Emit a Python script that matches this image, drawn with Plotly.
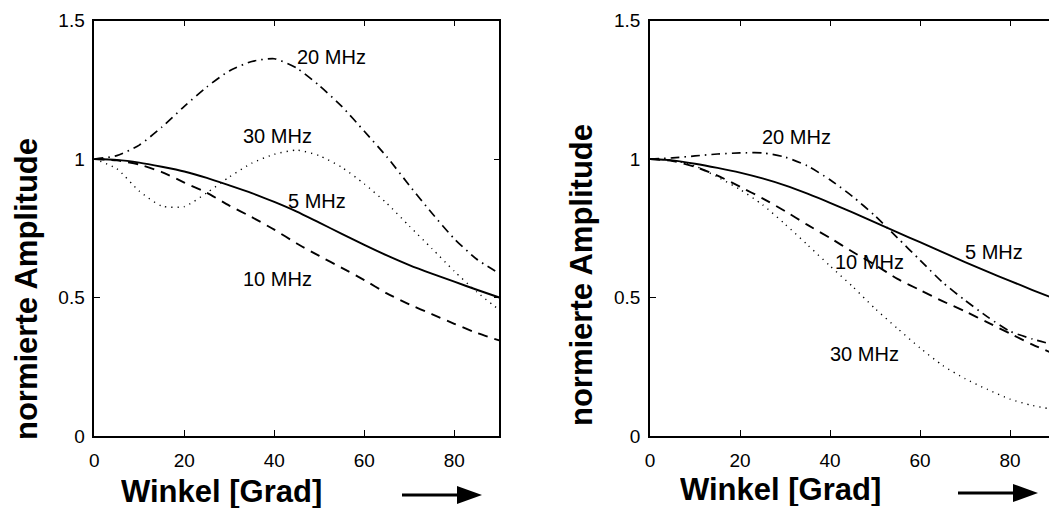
import plotly.graph_objects as go

# Angle grid (degrees)
winkel = [0, 5, 10, 15, 20, 25, 30, 35, 40, 45, 50, 55, 60, 65, 70, 75, 80, 85, 90]

# Left panel: normalised amplitude per frequency
links_5mhz = [1.0, 0.997, 0.987, 0.972, 0.955, 0.932, 0.905, 0.877, 0.845, 0.81, 0.77,
              0.73, 0.69, 0.652, 0.617, 0.586, 0.557, 0.528, 0.50]
links_10mhz = [1.0, 0.995, 0.98, 0.953, 0.915, 0.878, 0.832, 0.79, 0.745, 0.695, 0.65,
               0.607, 0.563, 0.515, 0.475, 0.44, 0.405, 0.372, 0.345]
links_20mhz = [1.0, 1.012, 1.05, 1.115, 1.19, 1.26, 1.318, 1.352, 1.362, 1.328, 1.265,
               1.19, 1.10, 1.008, 0.905, 0.805, 0.712, 0.638, 0.587]
links_30mhz = [1.0, 0.965, 0.884, 0.83, 0.828, 0.878, 0.935, 0.985, 1.017, 1.032, 1.012,
               0.97, 0.91, 0.84, 0.758, 0.677, 0.595, 0.52, 0.455]

# Right panel
rechts_5mhz = [1.0, 0.995, 0.983, 0.968, 0.951, 0.93, 0.905, 0.875, 0.842, 0.807, 0.771,
               0.735, 0.70, 0.664, 0.628, 0.593, 0.56, 0.527, 0.495]
rechts_10mhz = [1.0, 0.993, 0.972, 0.94, 0.90, 0.858, 0.812, 0.762, 0.715, 0.665, 0.618,
                0.567, 0.527, 0.487, 0.45, 0.41, 0.37, 0.33, 0.295]
rechts_20mhz = [1.0, 1.004, 1.011, 1.018, 1.022, 1.022, 1.007, 0.975, 0.925, 0.865, 0.795,
                0.715, 0.635, 0.555, 0.49, 0.43, 0.378, 0.35, 0.328]
rechts_30mhz = [1.0, 0.995, 0.975, 0.935, 0.89, 0.835, 0.765, 0.69, 0.614, 0.54, 0.46,
                0.388, 0.318, 0.255, 0.207, 0.168, 0.133, 0.11, 0.095]

# Curve labels: (text, x, y) in data coordinates
labels_links = [("20 MHz", 52.8, 1.368), ("30 MHz", 40.7, 1.083),
                ("5 MHz", 49.4, 0.848), ("10 MHz", 40.7, 0.567)]
labels_rechts = [("20 MHz", 32.6, 1.081), ("5 MHz", 76.5, 0.665),
                 ("10 MHz", 48.7, 0.629), ("30 MHz", 47.7, 0.296)]

y_ticks = [0, 0.5, 1, 1.5]
x_ticks = [0, 20, 40, 60, 80]

W, H = 1049, 510
FONT = "Liberation Sans, Arial, Helvetica, sans-serif"

styles = {
    "5": dict(color="black", width=1.9, dash="solid"),
    "10": dict(color="black", width=1.9, dash="10px,7px"),
    "20": dict(color="black", width=1.7, dash="9px,5px,1.5px,5px"),
    "30": dict(color="black", width=1.4, dash="1.2px,5px"),
}

fig = go.Figure()

panels = [
    ("x", "y", [links_5mhz, links_10mhz, links_20mhz, links_30mhz]),
    ("x2", "y2", [rechts_5mhz, rechts_10mhz, rechts_20mhz, rechts_30mhz]),
]
for xa, ya, series in panels:
    for key, vals in zip(["5", "10", "20", "30"], series):
        fig.add_trace(go.Scatter(
            x=winkel, y=vals, mode="lines", xaxis=xa, yaxis=ya,
            line=dict(shape="spline", smoothing=0.6, **styles[key]),
            showlegend=False, hoverinfo="skip",
        ))

# pixel -> paper helpers
def px(x):
    return x / W

def py(y):
    return 1 - y / H

x0_left, x0_right = 94.3, 650.0
scale_x = 4.5  # pixels per degree
y_top, y_bot = 20.5, 436.0

axis_common = dict(
    showgrid=False, zeroline=False, showline=True, linecolor="black", linewidth=1.5,
    ticks="inside", ticklen=6, tickwidth=1, tickcolor="black", automargin=False,
    tickfont=dict(family=FONT, size=19, color="black"),
)

fig.update_layout(
    width=W, height=H,
    margin=dict(l=0, r=0, t=0, b=0, autoexpand=False),
    paper_bgcolor="white", plot_bgcolor="white",
    xaxis=dict(domain=[px(x0_left), px(x0_left + 90 * scale_x)], range=[0, 90],
               tickvals=x_ticks, mirror="ticks", anchor="y", ticklabelstandoff=6,
               **axis_common),
    yaxis=dict(domain=[py(y_bot), py(y_top)], range=[0, 1.5], tickvals=y_ticks,
               ticktext=["0", "0.5", "1", "1.5"], mirror="ticks", anchor="x",
               ticklabelstandoff=4, **axis_common),
    xaxis2=dict(domain=[px(x0_right), 1.0], range=[0, (W - x0_right) / scale_x],
                tickvals=x_ticks, mirror="ticks", anchor="y2", ticklabelstandoff=6,
                **axis_common),
    yaxis2=dict(domain=[py(y_bot), py(y_top)], range=[0, 1.5], tickvals=y_ticks,
                ticktext=["0", "0.5", "1", "1.5"], mirror=False, anchor="x2",
                ticklabelstandoff=4, **axis_common),
)

annotations = []
for (xa, ya, labs) in [("x", "y", labels_links), ("x2", "y2", labels_rechts)]:
    for text, lx, ly in labs:
        annotations.append(dict(
            text=text, x=lx, y=ly, xref=xa, yref=ya, showarrow=False,
            xanchor="center", yanchor="middle",
            font=dict(family=FONT, size=20, color="black"),
        ))

title_font = dict(family=FONT, size=31, color="black", weight="bold")
for cx, cy in [(26, 289), (581, 275)]:
    annotations.append(dict(
        text="normierte Amplitude", textangle=-90, x=px(cx), y=py(cy),
        xref="paper", yref="paper", showarrow=False,
        xanchor="center", yanchor="middle", font=title_font,
    ))
for cx, cy in [(221, 491), (780, 489)]:
    annotations.append(dict(
        text="Winkel [Grad]", x=px(cx), y=py(cy), height=34,
        xref="paper", yref="paper", showarrow=False,
        xanchor="center", yanchor="middle", font=title_font,
    ))
fig.update_layout(annotations=annotations)

# direction arrows beside the x-axis titles
shapes = []
for ax0, ay in [(402, 495), (958, 493)]:
    tip = ax0 + 80
    base = tip - 25
    shapes.append(dict(type="line", xref="paper", yref="paper",
                       x0=px(ax0), x1=px(base + 2), y0=py(ay), y1=py(ay),
                       line=dict(color="black", width=3)))
    shapes.append(dict(type="path", xref="paper", yref="paper",
                       path=f"M {px(base)} {py(ay - 9)} L {px(tip)} {py(ay)} L {px(base)} {py(ay + 9)} Z",
                       fillcolor="black", line=dict(color="black", width=0)))
fig.update_layout(shapes=shapes)

fig.write_html("out.html")
